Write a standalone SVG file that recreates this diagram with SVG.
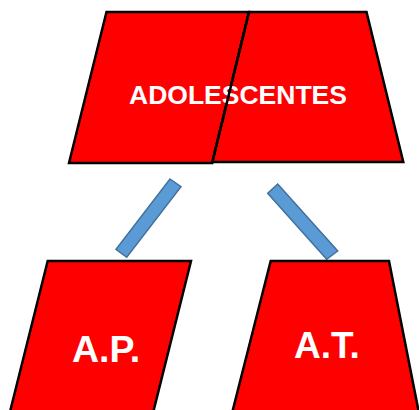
<svg xmlns="http://www.w3.org/2000/svg" width="419" height="410" viewBox="0 0 419 410">
<style>
.shape{fill:#FF0000;stroke:#000;stroke-width:2.5;stroke-linejoin:miter}
.lbl{fill:#fff;font-family:"Liberation Sans",Arial,sans-serif;font-weight:bold}
.bar{fill:#5B9BD5;stroke:#41719C;stroke-width:1.5}
</style>
<rect width="419" height="410" fill="#fff"/>
<g id="adolescentes">
<polygon class="shape" points="106.5,12 249,12 212.3,163 69,163"/>
<polygon class="shape" points="249,12 366.5,12 403.3,162 212.3,162"/>
<text class="lbl" x="238" y="104" font-size="26.5" text-anchor="middle">ADOLESCENTES</text>
<line x1="249" y1="12" x2="212.3" y2="162.5" stroke="#000" stroke-width="2.5"/>
</g>
<g id="connectors">
<polygon class="bar" points="170,179 181,186.7 126.7,257.3 116,249.3"/>
<polygon class="bar" points="267.7,193.3 277.7,184 337.7,251 326.7,259.3"/>
</g>
<g id="ap">
<polygon class="shape" points="47.7,261 191,261 150,425 6.7,425"/>
<text class="lbl" x="72" y="362" font-size="37.5">A.P.</text>
</g>
<g id="at">
<polygon class="shape" points="270.7,261 389,261 421.3,425 229,425"/>
<text class="lbl" x="294" y="358" font-size="37">A.T.</text>
</g>
</svg>
